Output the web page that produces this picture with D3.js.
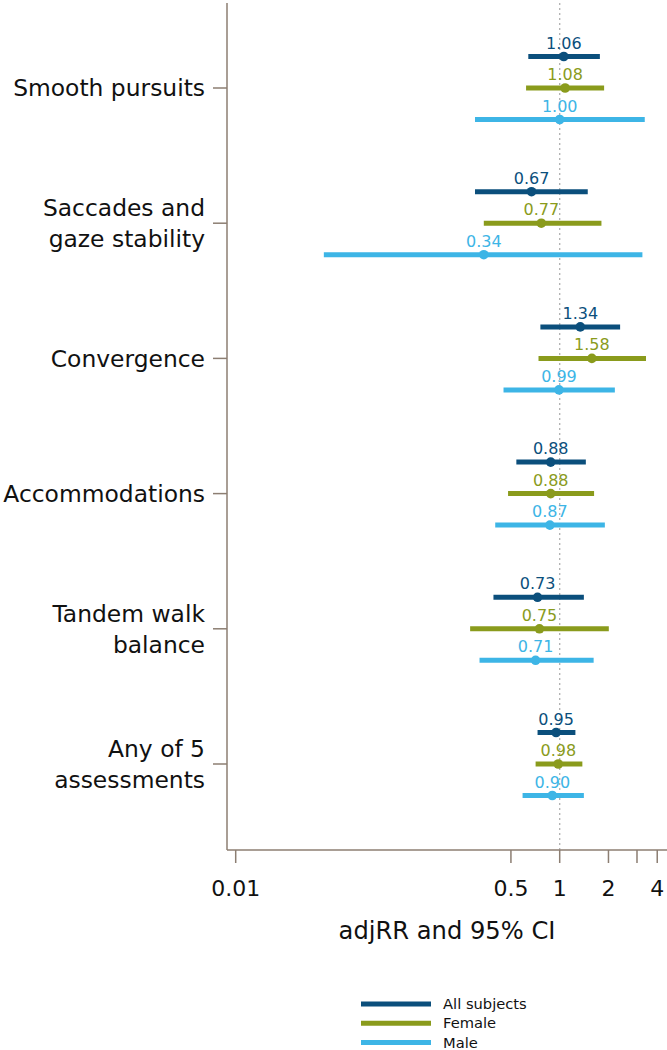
<!DOCTYPE html>
<html>
<head>
<meta charset="utf-8">
<script src="https://cdn.jsdelivr.net/npm/d3@7"></script>
<style>
  html, body { margin: 0; padding: 0; background: #fff; }
  svg { display: block; font-family: "DejaVu Sans", Verdana, sans-serif; }
</style>
</head>
<body>
<svg id="chart" width="667" height="1050"></svg>
<script>
const categories = [
  ["Smooth pursuits"],
  ["Saccades and", "gaze stability"],
  ["Convergence"],
  ["Accommodations"],
  ["Tandem walk", "balance"],
  ["Any of 5", "assessments"]
];
const seriesNames = ["All subjects", "Female", "Male"];
const seriesColors = ["#0b4f7c", "#8a9b1c", "#3db5e6"];

// order of categories as above
const allEst    = [1.06, 0.67, 1.34, 0.88, 0.73, 0.95];
const allLow    = [0.64, 0.30, 0.76, 0.54, 0.39, 0.73];
const allHigh   = [1.77, 1.49, 2.36, 1.45, 1.41, 1.25];
const femEst    = [1.08, 0.77, 1.58, 0.88, 0.75, 0.98];
const femLow    = [0.62, 0.34, 0.74, 0.48, 0.28, 0.71];
const femHigh   = [1.88, 1.81, 3.41, 1.63, 2.01, 1.38];
const maleEst   = [1.00, 0.34, 0.99, 0.87, 0.71, 0.90];
const maleLow   = [0.30, 0.035, 0.45, 0.40, 0.32, 0.59];
const maleHigh  = [3.35, 3.24, 2.19, 1.90, 1.62, 1.41];

const xTicks = [0.01, 0.5, 1, 2, 3, 4];
const xTickLabels = ["0.01", "0.5", "1", "2", "", "4"];

(function () {
const estArr = [allEst, femEst, maleEst];
const lowArr = [allLow, femLow, maleLow];
const highArr = [allHigh, femHigh, maleHigh];

const rows = [];
categories.forEach((c, ci) => {
  seriesNames.forEach((s, si) => {
    rows.push({ cat: ci, series: si, est: estArr[si][ci], low: lowArr[si][ci], high: highArr[si][ci] });
  });
});

const svg = d3.select("#chart");
const axisColor = "#8c7e72";
const plotLeft = 227, plotBottom = 850, plotRight = 667, plotTop = 3;

const x = d3.scaleLog().domain([0.01, 1]).range([235.7, 559.7]);
const y = d3.scalePoint().domain(d3.range(categories.length)).range([88, 764]);
const off = d3.scalePoint().domain(d3.range(seriesNames.length)).range([-31.5, 31.5]);

// dotted reference line at 1
svg.append("line")
  .attr("x1", x(1)).attr("x2", x(1))
  .attr("y1", plotTop).attr("y2", plotBottom)
  .attr("stroke", "#b0b0b0").attr("stroke-width", 1.3)
  .attr("stroke-dasharray", "2,3");

// Y axis
const yAxis = svg.append("g");
yAxis.append("line").attr("x1", plotLeft).attr("x2", plotLeft).attr("y1", plotTop).attr("y2", plotBottom)
  .attr("stroke", axisColor).attr("stroke-width", 1.5);
const catG = yAxis.selectAll("g.cat").data(categories).enter().append("g")
  .attr("transform", (d, i) => `translate(0,${y(i)})`);
catG.append("line").attr("x1", plotLeft - 14).attr("x2", plotLeft).attr("stroke", axisColor).attr("stroke-width", 1.5);
catG.each(function(lines) {
  const g = d3.select(this);
  const lh = 31;
  const startY = -(lines.length - 1) * lh / 2;
  lines.forEach((t, k) => {
    g.append("text")
      .attr("x", 205).attr("y", startY + k * lh)
      .attr("dy", "0.36em")
      .attr("text-anchor", "end")
      .attr("font-size", 23.4)
      .attr("fill", "#111")
      .text(t);
  });
});

// X axis
const xAxis = svg.append("g");
xAxis.append("line").attr("x1", plotLeft).attr("x2", plotRight).attr("y1", plotBottom).attr("y2", plotBottom)
  .attr("stroke", axisColor).attr("stroke-width", 1.5);
const tg = xAxis.selectAll("g.tick").data(xTicks).enter().append("g")
  .attr("transform", d => `translate(${x(d)},${plotBottom})`);
tg.append("line").attr("y1", 0).attr("y2", 13).attr("stroke", axisColor).attr("stroke-width", 1.5);
tg.append("text").attr("y", 46).attr("text-anchor", "middle").attr("font-size", 22).attr("fill", "#111")
  .text((d, i) => xTickLabels[i]);
xAxis.append("text").attr("x", (plotLeft + plotRight) / 2).attr("y", 939)
  .attr("text-anchor", "middle").attr("font-size", 24.2).attr("fill", "#111")
  .text("adjRR and 95% CI");

// CI bars
const marks = svg.append("g");
const rg = marks.selectAll("g.row").data(rows).enter().append("g")
  .attr("transform", d => `translate(0,${y(d.cat) + off(d.series)})`);
rg.append("line")
  .attr("x1", d => x(d.low)).attr("x2", d => x(d.high))
  .attr("stroke", d => seriesColors[d.series]).attr("stroke-width", 5);
rg.append("circle")
  .attr("cx", d => x(d.est)).attr("r", 4.8)
  .attr("fill", d => seriesColors[d.series]);
rg.append("text")
  .attr("x", d => x(d.est)).attr("y", -8)
  .attr("text-anchor", "middle").attr("font-size", 16)
  .attr("fill", d => seriesColors[d.series])
  .text(d => d.est.toFixed(2));

// Legend
const lg = svg.append("g");
const li = lg.selectAll("g").data(seriesNames).enter().append("g")
  .attr("transform", (d, i) => `translate(361,${1004 + i * 19.3})`);
li.append("line").attr("x1", 0).attr("x2", 70).attr("stroke", (d, i) => seriesColors[i]).attr("stroke-width", 5);
li.append("text").attr("x", 82).attr("y", 5).attr("font-size", 14.7).attr("fill", "#111").text(d => d);
})();
</script>
</body>
</html>
